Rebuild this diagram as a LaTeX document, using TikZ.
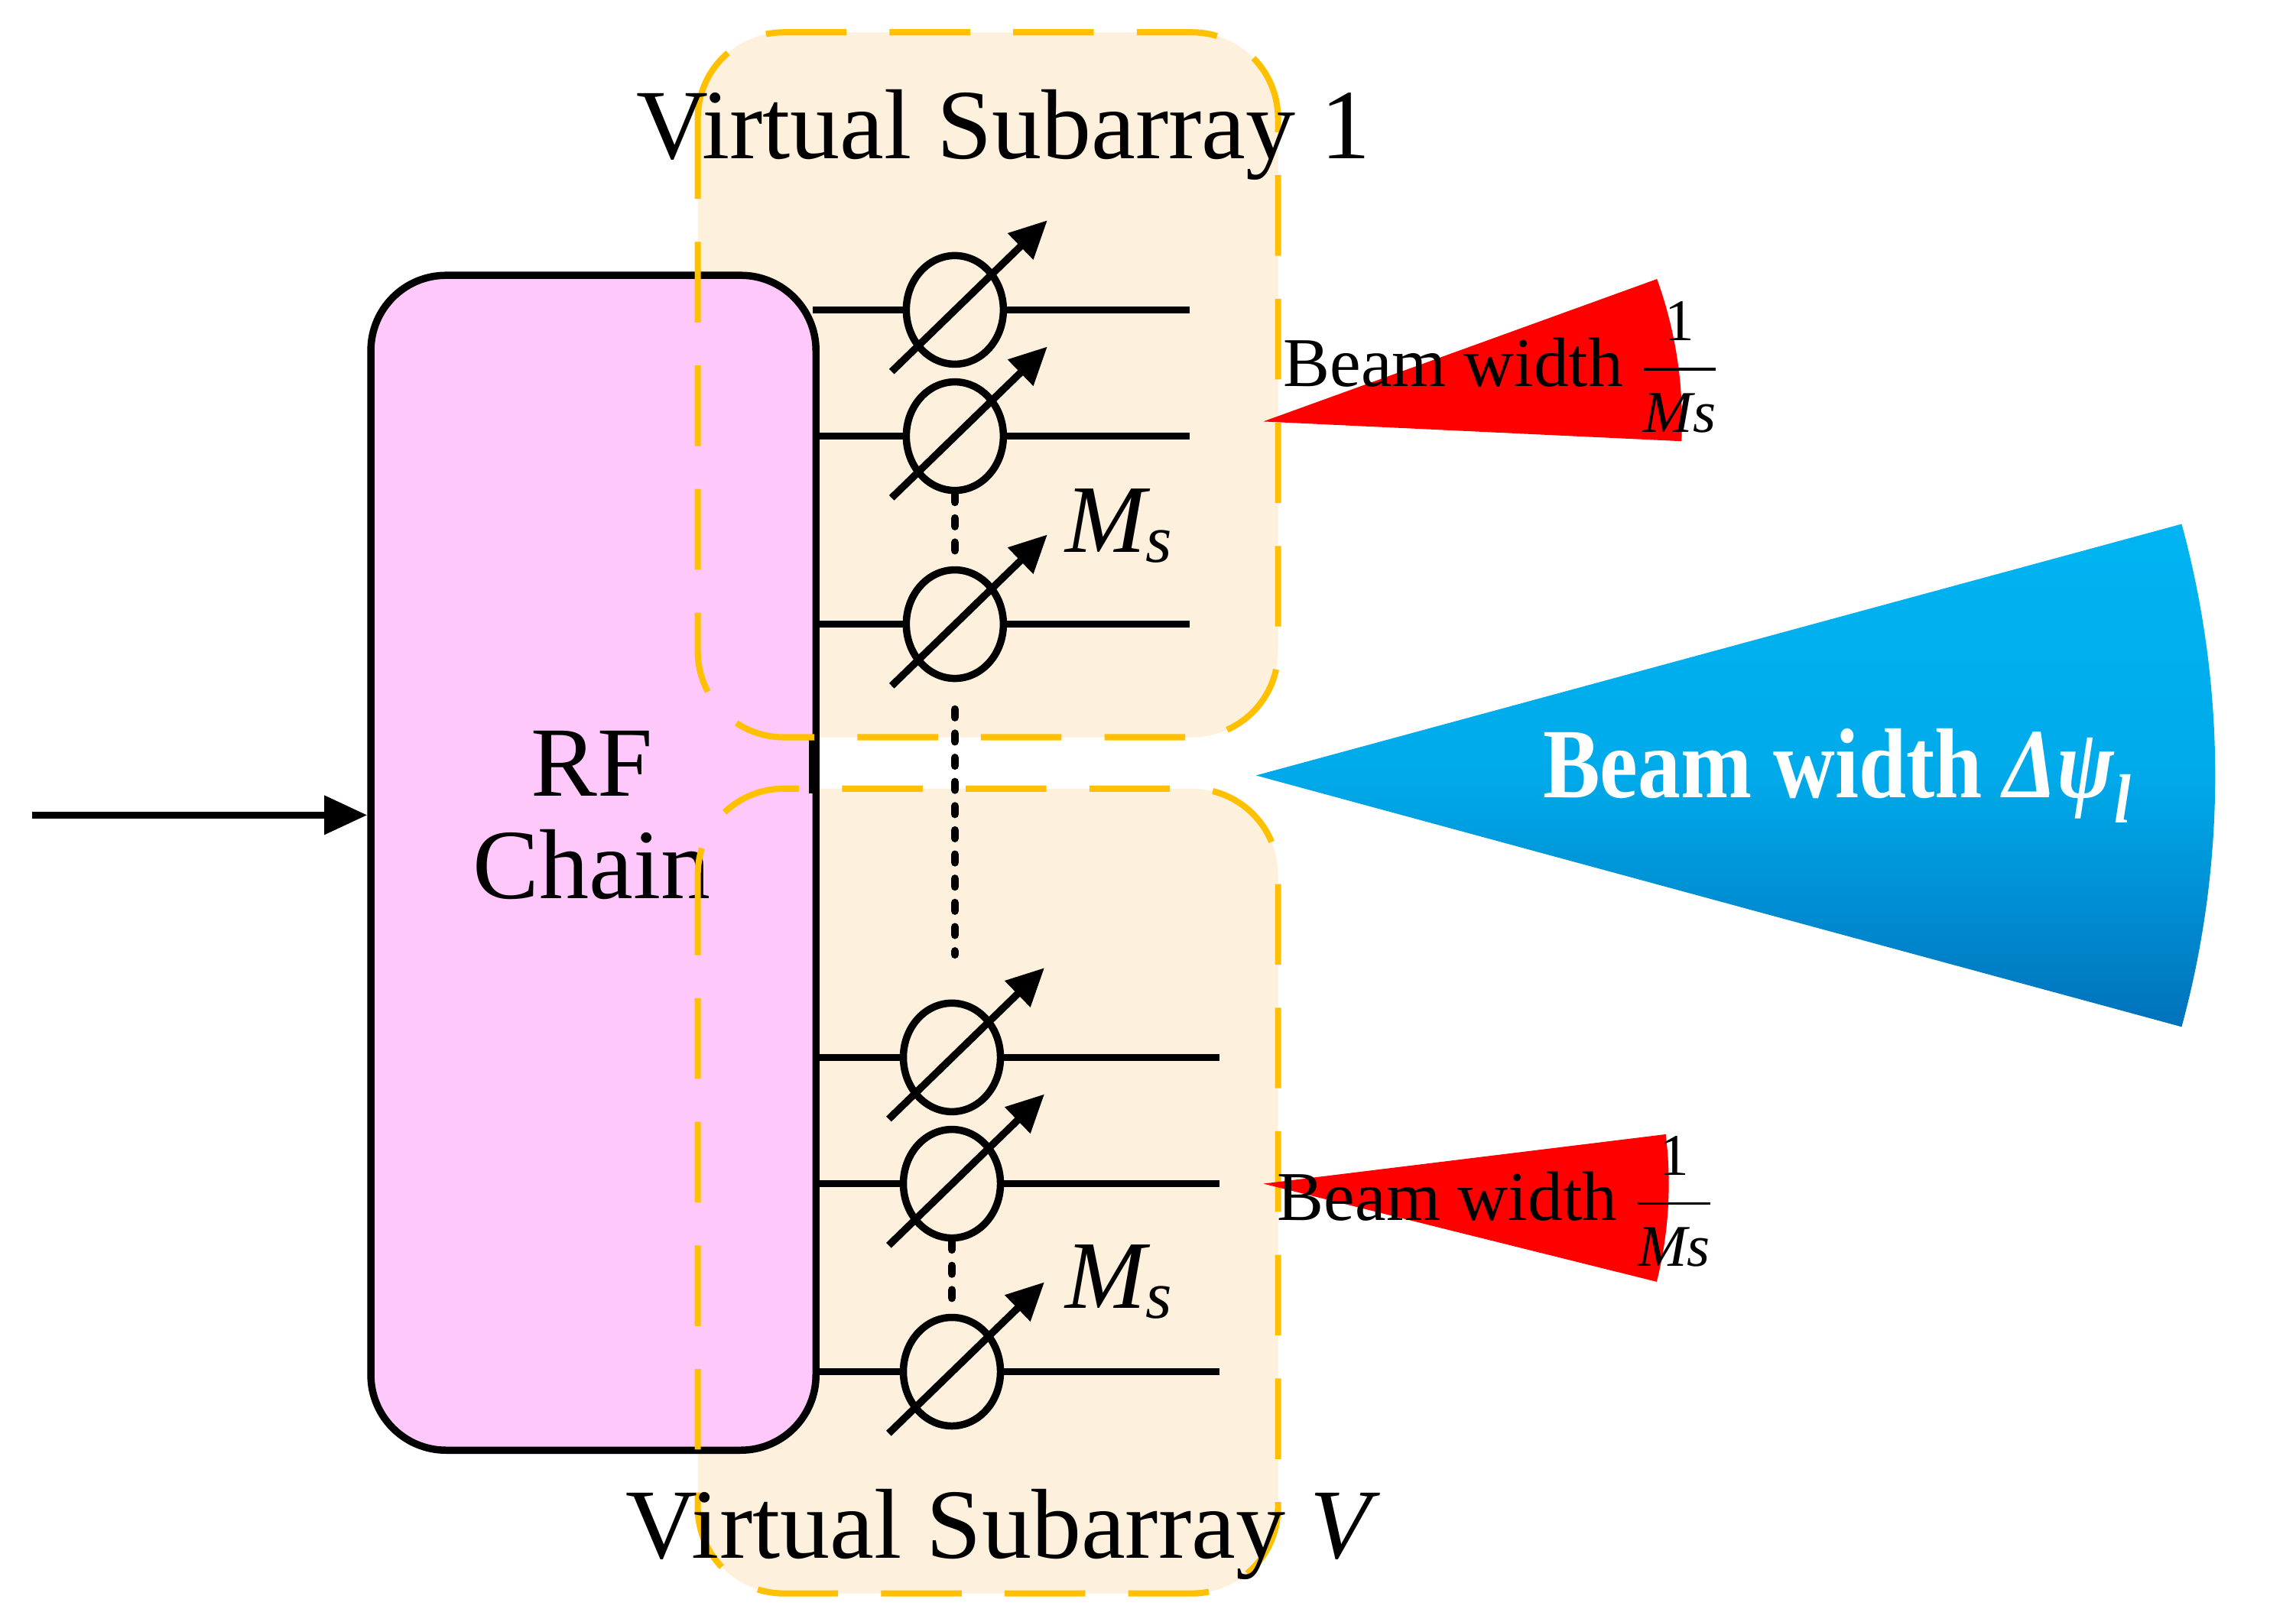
\documentclass[tikz,border=0pt]{standalone}
\usepackage{amsmath}
\usepackage{fontspec}
\setmainfont{Liberation Serif}
\usetikzlibrary{arrows.meta,shapes.geometric}
\definecolor{rfpink}{HTML}{FFC8FA}
\definecolor{subfill}{HTML}{FDF0DC}
\definecolor{dashor}{HTML}{FFC000}
\definecolor{bluetop}{HTML}{00B4F2}
\definecolor{bluebot}{HTML}{0072BC}
\tikzset{
  thick line/.style={line width=2.7pt},
  subbox/.style={draw=dashor,line width=2.3pt,dash pattern=on 30pt off 16pt,rounded corners=32pt},
  ps/.style={ellipse,draw,line width=2.7pt,minimum width=1.27cm,minimum height=1.42cm,inner sep=0pt},
  psarrow/.style={line width=2.7pt,-{Triangle[length=14pt,width=13pt]}},
  big/.style={font=\fontsize{37}{42}\selectfont},
}
\newcommand{\fracms}{$\dfrac{\text{\fontsize{22}{24}\selectfont 1}}{\text{\fontsize{22}{24}\selectfont\itshape Ms}}$}
\begin{document}
\begin{tikzpicture}[x=0.01921cm,y=-0.01921cm]
\useasboundingbox (0,0) rectangle (1563,1104);
% subarray fills
\fill[subfill,rounded corners=32pt] (475,22) rectangle (870,502);
\fill[subfill,rounded corners=32pt] (475,537) rectangle (870,1085);
% RF chain
\node[draw,thick line,fill=rfpink,rounded corners=28pt,minimum width=303*0.01921cm,minimum height=800*0.01921cm,anchor=north west] (rf) at (250,185) {};
\node[big,align=center] (rflbl) at (403,555) {RF\\[-4pt]Chain};
\coordinate (in) at (22,555);
\draw[thick line,-{Triangle[length=16pt,width=14pt]}] (in) -- (in -| rf.west);
% phase shifters
\foreach \n/\y/\x/\e in {a/211/650/810,b/297/650/810,c/425/650/810,d/720/648/830,e/806/648/830,f/934/648/830}{
  \coordinate (s\n) at (553,\y);
  \coordinate (t\n) at (\e,\y);
  \node[ps] (p\n) at (\x,\y) {};
  \draw[thick line] (s\n) -- (p\n.west);
  \draw[thick line] (p\n.east) -- (t\n);
  \coordinate (q\n) at (\x-43,\y+42);
  \coordinate (r\n) at (\x+63,\y-61);
  \draw[psarrow] (q\n) -- (r\n);
}
\draw[thick line] (553,500) -- (553,540);
% dots
\tikzset{dots/.style={line width=3pt,dash pattern=on 3pt off 6pt,line cap=round}}
\draw[dots] (pb.south) -- (pc.north);
\draw[dots] (650,483) -- (650,650);
\draw[dots] (pe.south) -- (pf.north);
\node[font=\fontsize{36}{38}\selectfont\itshape] (ms1) at (762,358) {M\textsubscript{s}};
\node[font=\fontsize{36}{38}\selectfont\itshape] (ms2) at (762,873) {M\textsubscript{s}};
% dashed borders
\draw[subbox] (475,22) rectangle (870,502);
\draw[subbox] (475,537) rectangle (870,1085);
\node[big] (t1) at (683,92) {Virtual Subarray 1};
\node[big] (t2) at (683,1045) {Virtual Subarray \textit{V}};
% red beams
\fill[red] (860,287) -- ++(-19.9:285) arc[start angle=-19.9,end angle=2.7,radius=285] -- cycle;
\fill[red] (860,806) -- ++(-7:276) arc[start angle=-7,end angle=14,radius=276] -- cycle;
\node[font=\fontsize{26}{28}\selectfont,inner sep=0pt] (bw1) at (1022,250) {Beam width \fracms};
\node[font=\fontsize{26}{28}\selectfont,inner sep=0pt] (bw2) at (1018,818) {Beam width \fracms};
% blue beam
\shade[top color=bluetop,bottom color=bluebot,middle color=bluetop!85!bluebot] (855,528) -- ++(-15.2:653) arc[start angle=-15.2,end angle=15.2,radius=653] -- cycle;
\node[font=\bfseries\fontsize{37}{42}\selectfont,text=white,inner sep=0pt,anchor=west,xscale=0.86,transform shape] (bwb) at (1050,528) {Beam width \textit{Δψ\textsubscript{l}}};
\end{tikzpicture}
\end{document}
